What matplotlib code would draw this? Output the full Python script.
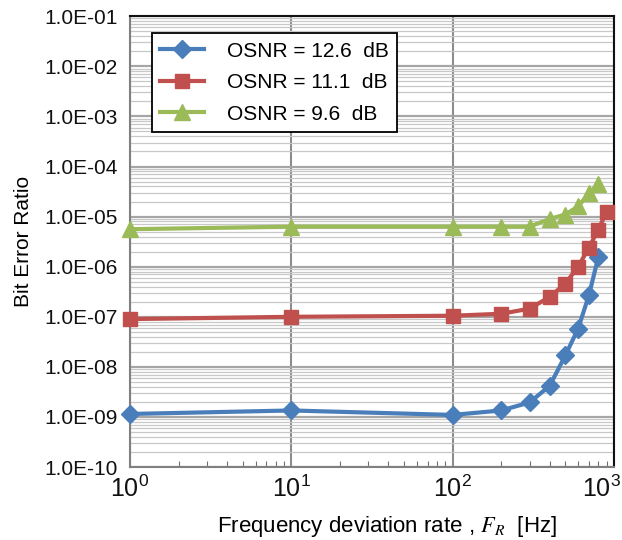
import matplotlib
matplotlib.use('Agg')
import matplotlib.pyplot as plt
from matplotlib.ticker import LogLocator, FuncFormatter, NullFormatter
from matplotlib.transforms import ScaledTranslation

plt.rcParams['font.family'] = ['Liberation Sans', 'DejaVu Sans']
plt.rcParams['mathtext.fontset'] = 'stix'

# ── dati ───────────────────────────────────────────────────────────
x_blue = [1, 10, 100, 200, 300, 400, 500, 600, 700, 800]
ber_blue = [1.15e-9, 1.35e-9, 1.1e-9, 1.35e-9, 1.95e-9, 4.2e-9, 1.7e-8, 5.8e-8, 2.7e-7, 1.55e-6]

x_red = [1, 10, 100, 200, 300, 400, 500, 600, 700, 800, 900]
ber_red = [9.0e-8, 1.0e-7, 1.05e-7, 1.15e-7, 1.45e-7, 2.5e-7, 4.6e-7, 1.0e-6, 2.4e-6, 5.5e-6, 1.25e-5]

x_green = [1, 10, 100, 200, 300, 400, 500, 600, 700, 800]
ber_green = [5.6e-6, 6.3e-6, 6.3e-6, 6.3e-6, 6.3e-6, 9.0e-6, 1.1e-5, 1.6e-5, 2.9e-5, 4.5e-5]

labels = ['OSNR = 12.6  dB', 'OSNR = 11.1  dB', 'OSNR = 9.6  dB']

fig = plt.figure(figsize=(6.22, 5.40), dpi=100)
ax = fig.add_axes([0.209, 0.135, 0.778, 0.835])

ax.plot(x_blue, ber_blue, color='#4a7ebb', lw=3, marker='D', ms=9,
        label=labels[0], zorder=5, clip_on=False)
ax.plot(x_red, ber_red, color='#c0504d', lw=3, marker='s', ms=10,
        label=labels[1], zorder=5, clip_on=False)
ax.plot(x_green, ber_green, color='#9bbb59', lw=3, marker='^', ms=11,
        label=labels[2], zorder=5, clip_on=False)

ax.set_xscale('log')
ax.set_yscale('log')
ax.set_xlim(1, 1000)
ax.set_ylim(1e-10, 1e-1)

ax.yaxis.set_major_locator(LogLocator(base=10, numticks=20))
ax.yaxis.set_minor_locator(LogLocator(base=10, subs=range(2, 10), numticks=20))
ax.yaxis.set_major_formatter(FuncFormatter(lambda v, p: f'{v:.1E}'))
ax.yaxis.set_minor_formatter(NullFormatter())
ax.xaxis.set_minor_locator(LogLocator(base=10, subs=range(2, 10), numticks=20))
ax.xaxis.set_minor_formatter(NullFormatter())

ax.grid(True, which='major', axis='y', color='#a6a6a6', lw=1.6, zorder=1)
ax.grid(True, which='minor', axis='y', color='#c8c8c8', lw=0.9, zorder=1)
ax.grid(True, which='major', axis='x', color='#8c8c8c', lw=1.5, zorder=1)
ax.set_axisbelow(True)

ax.tick_params(axis='both', which='major', length=0)
ax.tick_params(axis='y', which='major', labelsize=15, pad=9, colors='#111111')
ax.tick_params(axis='x', which='major', labelsize=18, pad=6, colors='#111111')
ax.tick_params(axis='x', which='minor', direction='in', length=4,
               width=0.8, color='#707070')
ax.tick_params(axis='y', which='minor', length=0)

ax.spines['left'].set_color('#808080')
ax.spines['bottom'].set_color('#808080')
ax.spines['top'].set_color('#111111')
ax.spines['right'].set_color('#111111')
for sp in ax.spines.values():
    sp.set_linewidth(1.5)

ax.set_ylabel('Bit Error Ratio', fontsize=15, labelpad=8)
ax.set_xlabel(r'Frequency deviation rate , $F_R$  [Hz]', fontsize=16, labelpad=6)
ax.xaxis.set_label_coords(0.53, -0.105)

leg = ax.legend(loc='upper left', bbox_to_anchor=(0.045, 0.962), borderaxespad=0,
                fontsize=15, frameon=True, fancybox=False, handlelength=2.1,
                handletextpad=1.1, borderpad=0.4, labelspacing=0.6)
leg.get_frame().set_edgecolor('black')
leg.get_frame().set_linewidth(1.3)
leg.get_frame().set_alpha(1)

# l'etichetta 10^3 sta sul bordo destro: spostarla un po' a sinistra
fig.canvas.draw()
for t in ax.xaxis.get_major_ticks():
    if abs(t.get_loc() - 1000) < 1:
        t.label1.set_transform(t.label1.get_transform()
                               + ScaledTranslation(-9 / 72, 0, fig.dpi_scale_trans))

plt.savefig('out.png', dpi=100, facecolor='white')
plt.close()
